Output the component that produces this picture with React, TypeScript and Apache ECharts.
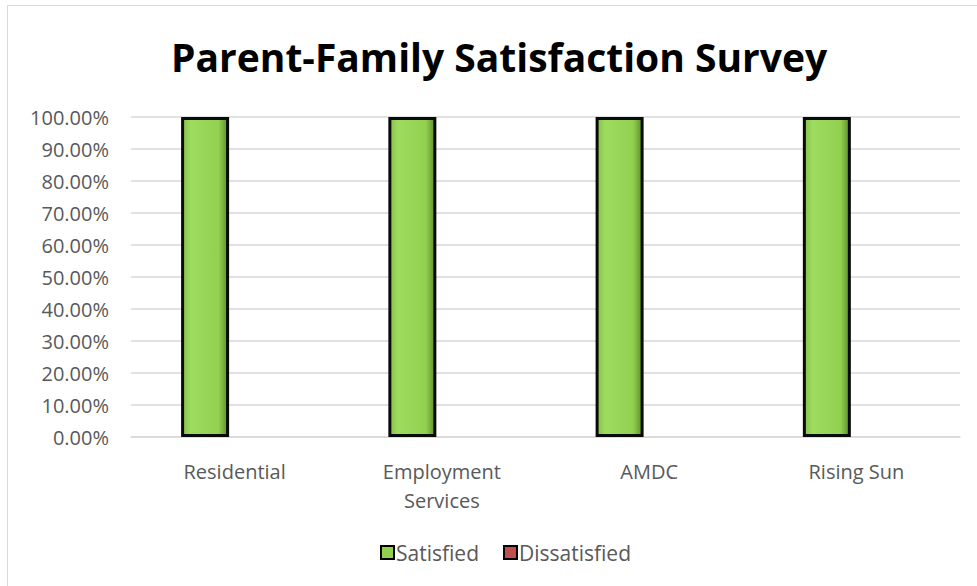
import React, { useEffect, useRef } from "react";
import * as echarts from "echarts";

const categories = ["Residential", "Employment\nServices", "AMDC", "Rising Sun"];
const satisfied = [1, 1, 1, 1];
const dissatisfied = [0, 0, 0, 0];
const yTicks = { min: 0, max: 1, interval: 0.1 };

export default function App() {
  const ref = useRef<HTMLDivElement>(null);
  useEffect(() => {
    document.body.style.margin = "0";
    const chart = echarts.init(ref.current!, null, { renderer: "svg" });
    const font = "'Open Sans', 'Liberation Sans', sans-serif";
    const greenFill = new echarts.graphic.LinearGradient(0, 0, 1, 0, [
      { offset: 0, color: "#86c04a" },
      { offset: 0.18, color: "#9ddc5e" },
      { offset: 0.8, color: "#92d050" },
      { offset: 1, color: "#5f8f2e" },
    ]);
    chart.setOption({
      animation: false,
      backgroundColor: "#ffffff",
      title: {
        text: "Parent-Family Satisfaction Survey",
        left: 166,
        top: 32,
        textStyle: { fontFamily: font, fontWeight: "bold", fontSize: 39, color: "#000000" },
      },
      graphic: [
        {
          type: "rect",
          shape: { x: 7.5, y: 5.5, width: 1000, height: 600 },
          style: { fill: "none", stroke: "#d9d9d9", lineWidth: 1 },
          silent: true,
        },
      ],
      legend: {
        top: 537,
        left: 375,
        icon: "rect",
        itemWidth: 13,
        itemHeight: 13,
        itemGap: 24,
        textStyle: { fontFamily: font, fontSize: 21, color: "#595959", padding: [0, 0, 0, -3] },
        data: [
          { name: "Satisfied", itemStyle: { color: "#92d050", borderColor: "#000", borderWidth: 2 } },
          { name: "Dissatisfied", itemStyle: { color: "#c0504d", borderColor: "#000", borderWidth: 2 } },
        ],
      },
      grid: { left: 131, right: 17, top: 117, bottom: 149 },
      xAxis: {
        type: "category",
        data: categories,
        axisLine: { lineStyle: { color: "#d9d9d9", width: 1.5 } },
        axisTick: { show: false },
        axisLabel: { fontFamily: font, fontSize: 20, color: "#595959", margin: 20, lineHeight: 29 },
      },
      yAxis: {
        type: "value",
        min: yTicks.min,
        max: yTicks.max,
        interval: yTicks.interval,
        axisLine: { show: false },
        axisTick: { show: false },
        splitLine: { lineStyle: { color: "#d9d9d9", width: 1.5 } },
        axisLabel: {
          fontFamily: font,
          fontSize: 20,
          color: "#595959",
          margin: 22,
          formatter: (v: number) => (v * 100).toFixed(2) + "%",
        },
      },
      series: [
        {
          name: "Satisfied",
          type: "bar",
          data: satisfied,
          barWidth: 48,
          barGap: "23%",
          itemStyle: { color: greenFill, borderColor: "#0a0a0a", borderWidth: 3 },
        },
        {
          name: "Dissatisfied",
          type: "bar",
          data: dissatisfied,
          barWidth: 48,
          itemStyle: { color: "#c0504d", borderWidth: 0 },
        },
      ],
    });
    return () => chart.dispose();
  }, []);
  return <div ref={ref} style={{ width: 977, height: 586 }} />;
}
